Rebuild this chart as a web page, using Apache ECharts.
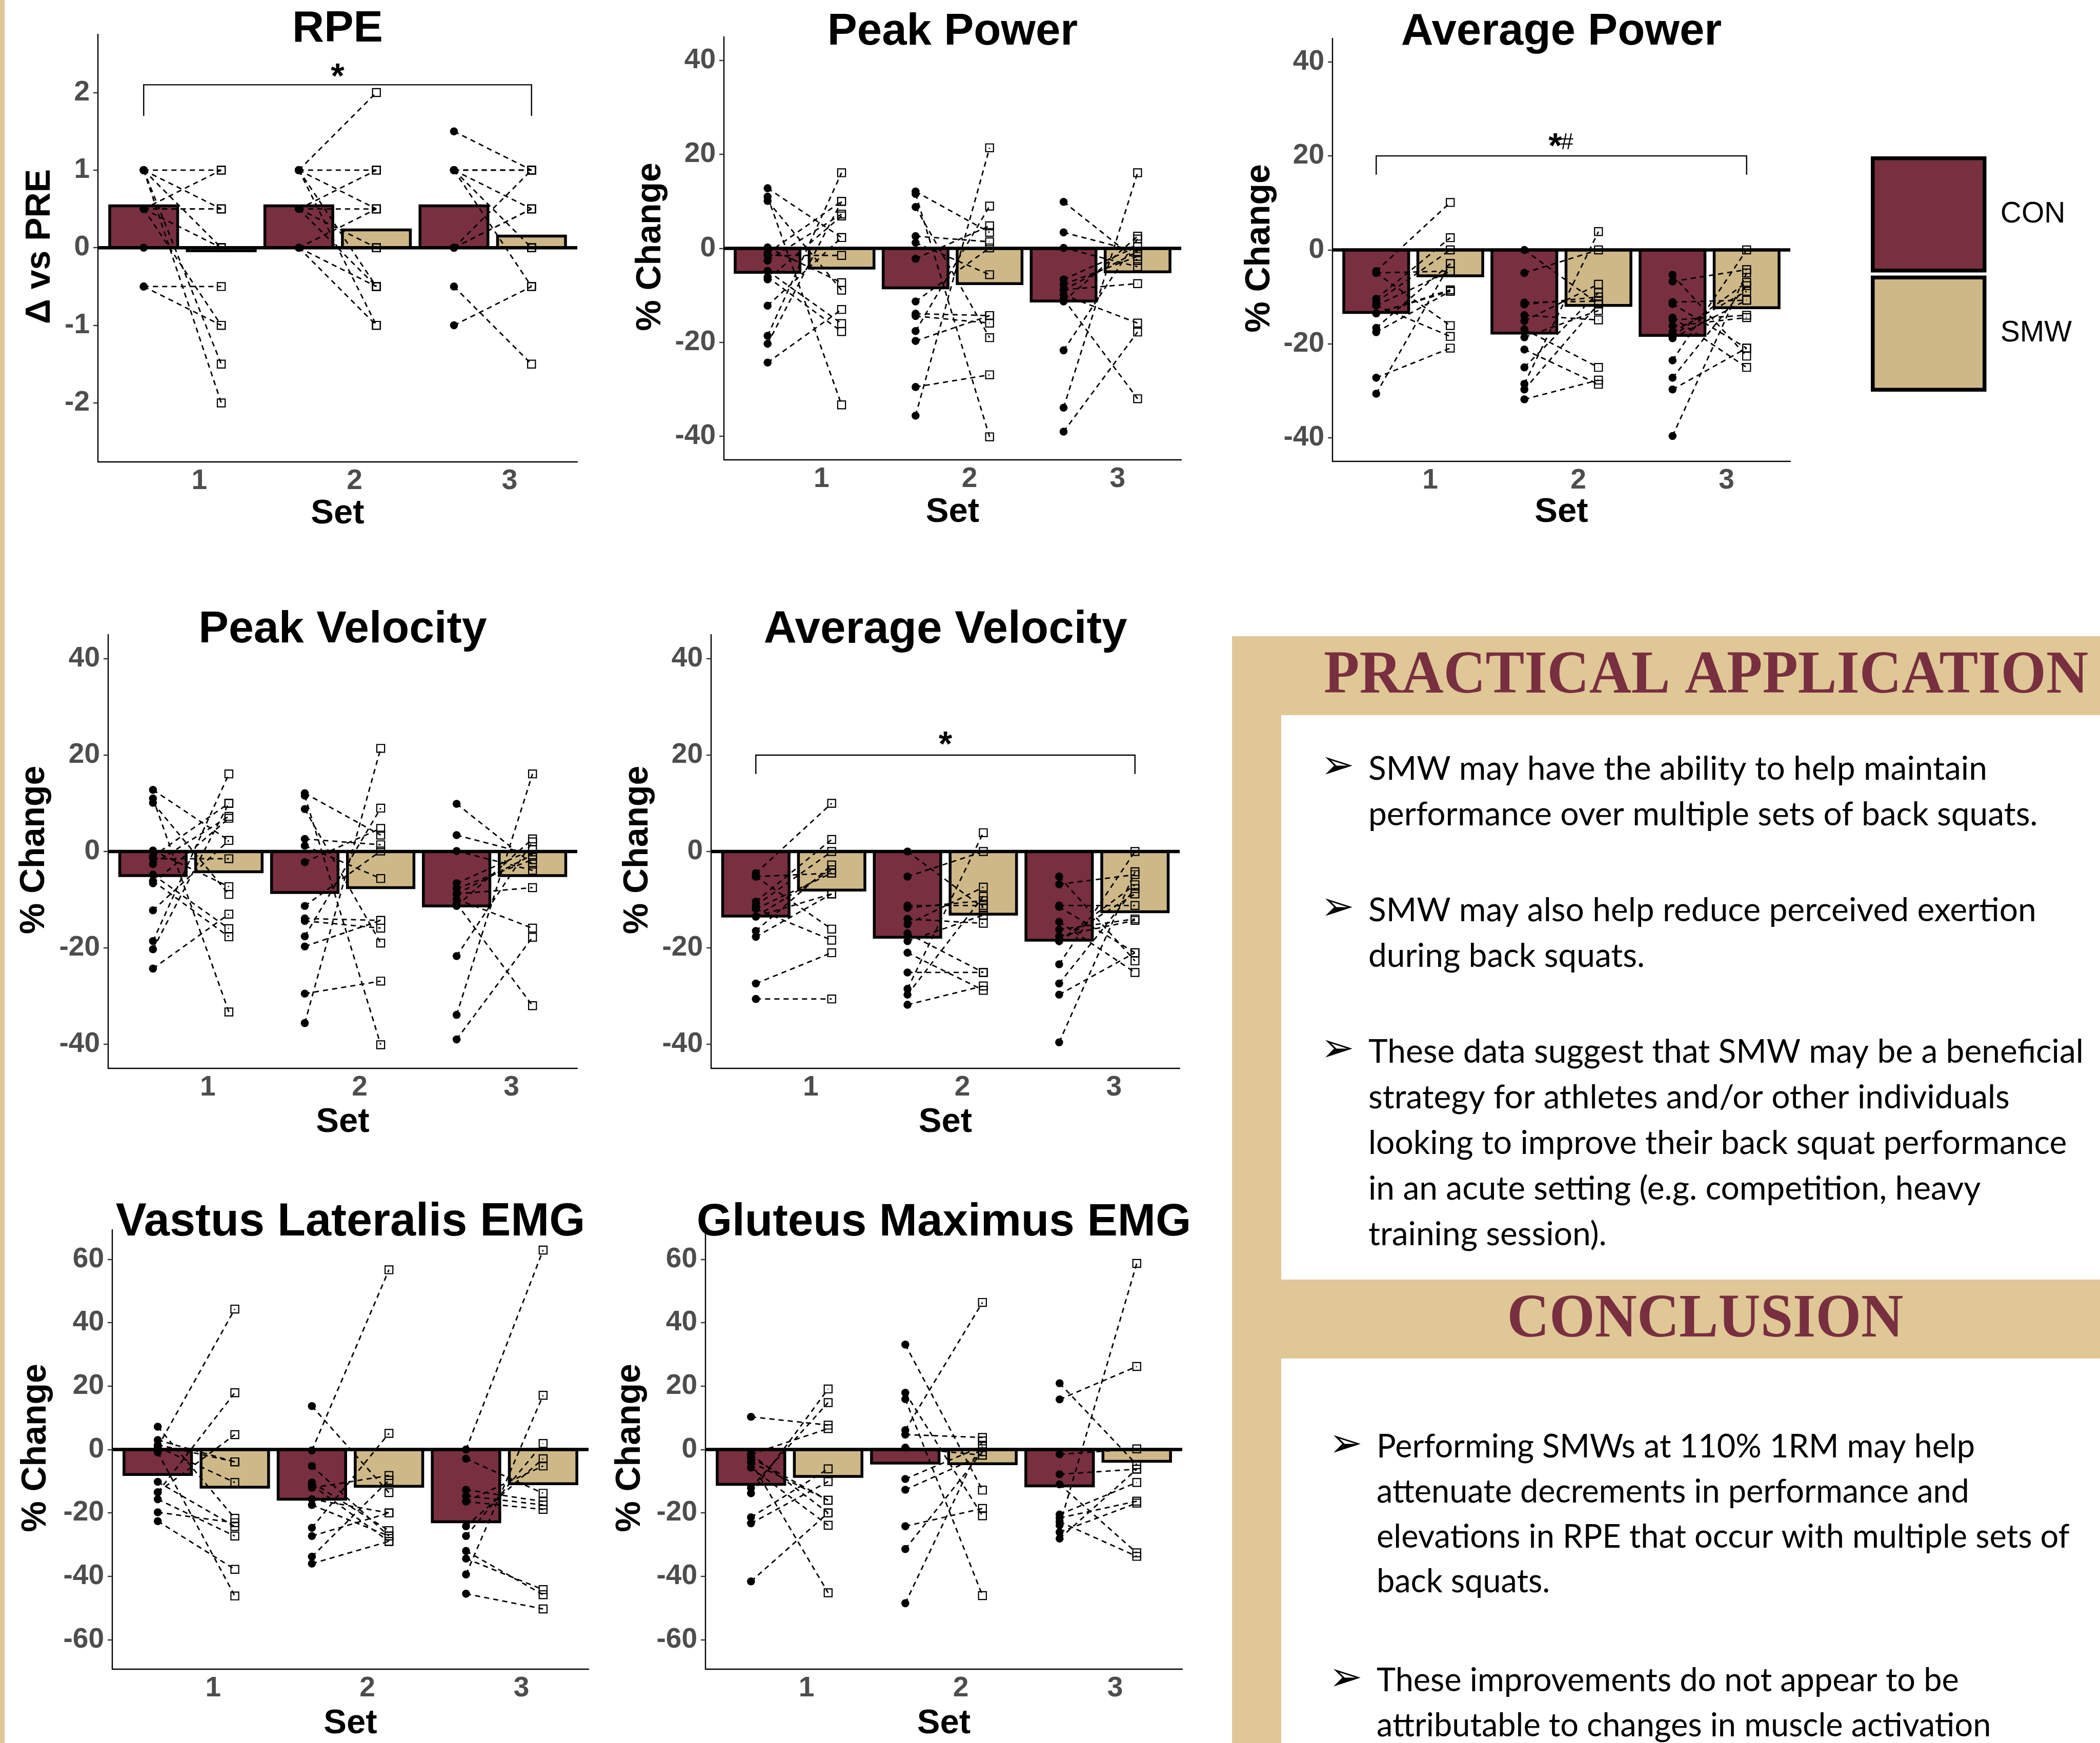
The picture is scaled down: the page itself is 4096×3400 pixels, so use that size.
<!DOCTYPE html>
<html>
<head>
<meta charset="utf-8">
<script src="https://cdn.jsdelivr.net/npm/echarts@6.0.0/dist/echarts.min.js"></script>
<style>
html, body { margin: 0; padding: 0; background: #fff; }
#main { width: 4096px; height: 3400px; }
</style>
</head>
<body>
<div id="main"></div>
<script>
var setLabels = ['1', '2', '3'];
var rpeTicks = [-2, -1, 0, 1, 2];
var pctTicks = [-40, -20, 0, 20, 40];
var emgTicks = [-60, -40, -20, 0, 20, 40, 60];

// RPE (delta vs PRE), one inner array per set, same subject order in CON and SMW
var rpeConMean = [0.54, 0.54, 0.54];
var rpeSmwMean = [-0.04, 0.23, 0.15];
var rpeCon = [
  [1, 1, 1, 1, 1, 0.5, 0.5, 0.5, 0.5, 0, -0.5, -0.5, 0.5],
  [1, 1, 1, 1, 1, 0.5, 0.5, 0.5, 0.5, 0, 0, 0, 0],
  [1.5, 1, 1, 1, 1, 0, 0, 0, -0.5, -1, 1, 0, 0]
];
var rpeSmw = [
  [1, 0, -1.5, -2, 0.5, 1, 0.5, 0, -1, 0, -0.5, -1, 0.5],
  [2, 1, 0.5, -0.5, -1, 1, 0, 0.5, -0.5, 0.5, -0.5, -1, 0],
  [1, 1, 0, -0.5, 1, 1, 0.5, 0, -1.5, -0.5, 0.5, 0, 0.5]
];

// Peak Power (% change)
var ppConMean = [-5.1, -8.4, -11.2];
var ppSmwMean = [-4.2, -7.5, -5.0];
var ppCon = [
  [12.8, 11.0, 10.1, 0.2, -1.0, -1.5, -2.6, -4.8, -6.1, -6.6, -12.2, -18.6, -20.3, -24.3],
  [12.1, 11.6, 8.8, 2.6, 1.2, -2.2, -11.3, -13.9, -14.4, -17.6, -19.7, -29.5, -35.6],
  [9.9, 3.4, 0.1, -6.6, -7.7, -8.8, -9.9, -10.8, -11.3, -21.7, -33.9, -39.0, -8.8]
];
var ppSmw = [
  [2.3, -33.3, -8.9, -7.3, 10.0, -1.5, 7.3, -16.0, -17.7, 6.9, 2.3, 16.1, 10.0, -13.0],
  [3.4, -40.1, -19.0, 1.4, -5.6, 4.8, 0.1, -14.3, -15.9, 9.0, -14.3, -26.9, 21.4],
  [-2.6, -0.7, -3.9, 0.4, -1.7, -7.5, -15.9, -32.0, 2.6, 2.0, 16.1, -17.8, -0.7]
];

// Peak Velocity: the poster shows the very same points and bars as Peak Power
var pvConMean = [-5.0, -8.5, -11.3];
var pvSmwMean = [-4.2, -7.5, -5.0];
var pvCon = ppCon;
var pvSmw = ppSmw;

// Average Power
var apConMean = [-13.3, -17.7, -18.2];
var apSmwMean = [-5.5, -11.8, -12.3];
var apCon = [
  [-4.5, -4.9, -4.9, -10.4, -11.1, -11.8, -13.5, -16.6, -17.5, -27.2, -30.6, -11.8, -13.5],
  [0, -4.9, -11.2, -11.6, -13.9, -15.1, -16.9, -18.6, -21.2, -25.0, -28.5, -29.7, -31.8],
  [-5.3, -6.7, -11.1, -11.5, -14.4, -14.9, -16.2, -17.5, -18.4, -18.8, -23.5, -27.2, -29.7, -39.6]
];
var apSmw = [
  [10.1, -4.5, -16.1, 2.6, 0.0, -18.4, -8.5, -2.9, -8.8, -20.9, -2.9, -4.5, -8.8],
  [-11.5, 0, -10.9, -10.0, -14.9, -7.3, -25.0, -12.9, -28.6, -9.1, 3.9, -11.5, -27.7],
  [-22.6, -4.2, -10.7, -20.9, -25.0, -13.9, -14.4, -8.8, -6.9, -10.7, 0, -7.6, -20.9, -4.9]
];

// Average Velocity
var avConMean = [-13.4, -17.8, -18.4];
var avSmwMean = [-8.0, -13.0, -12.5];
var avCon = [
  [-4.5, -5.2, -5.2, -10.4, -11.2, -11.9, -13.5, -16.5, -17.7, -27.4, -30.6, -11.9, -13.5],
  [0, -5.2, -11.2, -11.7, -14.0, -15.1, -17.0, -18.6, -21.0, -25.1, -28.5, -29.7, -31.8],
  [-5.2, -6.8, -11.2, -11.5, -14.6, -16.2, -17.6, -18.6, -18.6, -23.4, -27.4, -29.7, -39.6]
];
var avSmw = [
  [10.0, -4.5, -16.1, 2.5, 0.0, -18.4, -8.8, -2.8, -8.8, -21.0, -30.6, -4.5, -3.8],
  [-11.7, 0, -11.2, -10.2, -14.9, -7.4, -25.1, -13.2, -28.8, -25.1, 3.9, -9.3, -27.9],
  [-22.7, -4.8, -11.2, -21.0, -25.1, -14.0, -14.3, -8.8, -6.9, 0, -7.7, -21.0, -4.2]
];

// Vastus Lateralis EMG
var vlConMean = [-7.9, -15.7, -22.8];
var vlSmwMean = [-11.9, -11.6, -10.8];
var vlCon = [
  [7.2, 3.0, 0.8, -0.9, -10.2, -13.5, -15.7, -19.8, -22.6, 0.8, -13.5, 1.5],
  [13.7, -0.3, -5.2, -10.4, -11.2, -12.1, -17.5, -24.7, -27.3, -33.8, -36.0, -15.7],
  [0, -2.9, -12.7, -14.6, -16.4, -24.2, -27.3, -32.0, -34.4, -39.4, -45.5, -16.4]
];
var vlSmw = [
  [-21.7, -3.9, 44.3, -46.2, -24.3, 17.9, -27.3, -23.1, -37.8, -10.4, 4.7, -3.9],
  [-13.6, 56.7, -27.3, -25.6, -29.0, -8.2, -27.3, 5.1, -20.0, -9.7, -29.0, -20.0],
  [62.9, -13.8, -16.4, -17.5, -18.9, -2.9, 1.9, -45.8, -44.2, 17.1, -50.3, -5.2]
];

// Gluteus Maximus EMG
var gmConMean = [-11.0, -4.3, -11.5];
var gmSmwMean = [-8.5, -4.5, -3.7];
var gmCon = [
  [10.3, -1.5, -2.6, -4.0, -5.7, -12.1, -13.8, -21.4, -23.3, -41.6, -1.5, -4.0],
  [33.1, 17.9, 15.9, 6.1, 4.7, 0.6, -9.3, -12.7, -24.2, -31.4, -48.5],
  [20.9, 15.8, -1.5, -7.8, -11.0, -20.5, -21.6, -22.8, -23.9, -26.1, -28.1]
];
var gmSmw = [
  [7.7, 6.6, -16.0, -45.2, -23.9, 14.8, 19.1, -6.1, -10.1, -20.0, -20.0, -16.0],
  [-12.8, -20.9, -46.1, 46.4, 3.8, -1.8, 1.0, -1.8, -18.6, -0.7, 2.7],
  [-4.8, 26.2, 0.2, -6.2, -32.6, -10.4, -16.3, -33.7, 58.7, -16.9, -6.2]
];

var practicalLines = [
  ['SMW may have the ability to help maintain', 'performance over multiple sets of back squats.'],
  ['SMW may also help reduce perceived exertion', 'during back squats.'],
  ['These data suggest that SMW may be a beneficial', 'strategy for athletes and/or other individuals',
   'looking to improve their back squat performance', 'in an acute setting (e.g. competition, heavy',
   'training session).']
];
var conclusionLines = [
  ['Performing SMWs at 110% 1RM may help', 'attenuate decrements in performance and',
   'elevations in RPE that occur with multiple sets of', 'back squats.'],
  ['These improvements do not appear to be', 'attributable to changes in muscle activation']
];

// ---- styling ----
var GOLD = '#e0c796';
var CON_COLOR = '#782f40';
var SMW_COLOR = '#ceb888';
var DODGE = 0.25, BAR_HALF = 0.219;
var X_MIN = 0.455, X_MAX = 3.545;
var FONT = '"Liberation Sans", Arial, sans-serif';

var panels = [
  {title: 'RPE', titleSize: 86, yName: 'Δ vs PRE', con: rpeCon, smw: rpeSmw, conMean: rpeConMean, smwMean: rpeSmwMean,
   ticks: rpeTicks, yMin: -2.76, yMax: 2.75, box: [191, 67, 1126, 901], titleY: 57, setY: 1003, yNameX: 78,
   bracket: {from: 0.75, to: 3.25, low: 1.7, high: 2.1, marks: [{t: '*', dx: 0, dy: -13, bold: true}]}},
  {title: 'Peak Power', titleSize: 87, yName: '% Change', con: ppCon, smw: ppSmw, conMean: ppConMean, smwMean: ppSmwMean,
   ticks: pctTicks, yMin: -45, yMax: 45, box: [1412, 72, 2304, 897], titleY: 63, setY: 1000, yNameX: 1269},
  {title: 'Average Power', titleSize: 87, yName: '% Change', con: apCon, smw: apSmw, conMean: apConMean, smwMean: apSmwMean,
   ticks: pctTicks, yMin: -45, yMax: 45, box: [2599, 75, 3492, 900], titleY: 63, setY: 1000, yNameX: 2457,
   bracket: {from: 0.75, to: 3.25, low: 16, high: 20,
             marks: [{t: '*', dx: -12, dy: -16, bold: true}, {t: '#', dx: 11, dy: -25, bold: false}]}},
  {title: 'Peak Velocity', titleSize: 88, yName: '% Change', con: pvCon, smw: pvSmw, conMean: pvConMean, smwMean: pvSmwMean,
   ticks: pctTicks, yMin: -45, yMax: 45, box: [211, 1238, 1126, 2084], titleY: 1229, setY: 2190, yNameX: 67},
  {title: 'Average Velocity', titleSize: 89, yName: '% Change', con: avCon, smw: avSmw, conMean: avConMean, smwMean: avSmwMean,
   ticks: pctTicks, yMin: -45, yMax: 45, box: [1387, 1238, 2301, 2084], titleY: 1229, setY: 2190, yNameX: 1244,
   bracket: {from: 0.75, to: 3.25, low: 16.1, high: 20, marks: [{t: '*', dx: 0, dy: -18, bold: true}]}},
  {title: 'Vastus Lateralis EMG', titleSize: 90, yName: '% Change', con: vlCon, smw: vlSmw, conMean: vlConMean, smwMean: vlSmwMean,
   ticks: emgTicks, yMin: -69.3, yMax: 69.3, box: [219, 2399, 1148, 3256], titleY: 2385, setY: 3363, yNameX: 70},
  {title: 'Gluteus Maximus EMG', titleSize: 89, yName: '% Change', con: gmCon, smw: gmSmw, conMean: gmConMean, smwMean: gmSmwMean,
   ticks: emgTicks, yMin: -69.3, yMax: 69.3, box: [1376, 2399, 2306, 3256], titleY: 2385, setY: 3363, yNameX: 1229}
];

function barRenderer(offset) {
  return function (params, api) {
    var s = api.value(0), v = api.value(1);
    var a = api.coord([s + offset - BAR_HALF, v]);
    var b = api.coord([s + offset + BAR_HALF, 0]);
    return {
      type: 'rect',
      shape: {x: a[0], y: Math.min(a[1], b[1]), width: b[0] - a[0], height: Math.abs(b[1] - a[1])},
      style: {fill: api.visual('color'), stroke: '#000', lineWidth: 5.5}
    };
  };
}

function zeroRenderer(params, api) {
  var cs = params.coordSys;
  var y = api.coord([2, 0])[1];
  return {
    type: 'line',
    shape: {x1: cs.x, y1: y, x2: cs.x + cs.width, y2: y},
    style: {stroke: '#000', lineWidth: 6.5}
  };
}

function subjectRenderer(params, api) {
  var s = api.value(0);
  var p1 = api.coord([s - DODGE, api.value(1)]);
  var p2 = api.coord([s + DODGE, api.value(2)]);
  return {
    type: 'group',
    children: [
      {type: 'line', shape: {x1: p1[0], y1: p1[1], x2: p2[0], y2: p2[1]},
       style: {stroke: '#000', lineWidth: 2.8, lineDash: [10, 8]}},
      {type: 'circle', shape: {cx: p1[0], cy: p1[1], r: 7.8}, style: {fill: '#000'}},
      {type: 'rect', shape: {x: p2[0] - 7.6, y: p2[1] - 7.6, width: 15.2, height: 15.2},
       style: {fill: 'none', stroke: '#000', lineWidth: 2.2}}
    ]
  };
}

function bracketRenderer(br) {
  return function (params, api) {
    var a = api.coord([br.from, br.low]), b = api.coord([br.from, br.high]);
    var c = api.coord([br.to, br.high]), d = api.coord([br.to, br.low]);
    var mid = api.coord([(br.from + br.to) / 2, br.high]);
    var children = [{type: 'polyline', shape: {points: [a, b, c, d]},
                     style: {fill: 'none', stroke: '#000', lineWidth: 2.4}}];
    br.marks.forEach(function (m) {
      children.push({type: 'text', x: mid[0] + m.dx, y: mid[1] + m.dy,
        style: {text: m.t, fill: '#000', fontFamily: FONT,
                fontSize: m.bold ? 68 : 44, fontWeight: m.bold ? 'bold' : 'normal',
                align: 'center', verticalAlign: 'middle', textAlign: 'center', textVerticalAlign: 'middle'}});
    });
    return {type: 'group', children: children};
  };
}

function txt(x, y, text, o) {
  o = o || {};
  return {
    type: 'text', x: x, y: y, rotation: o.rotation || 0, scaleX: o.scaleX || 1, z: 10,
    style: {
      text: text, fill: o.fill || '#000', fontFamily: o.family || FONT,
      fontSize: o.size, fontWeight: o.weight || 'normal',
      align: o.align || 'center', textAlign: o.align || 'center',
      verticalAlign: 'middle', textVerticalAlign: 'middle'
    }
  };
}

var grids = [], xAxes = [], yAxes = [], series = [], graphics = [];

panels.forEach(function (p, i) {
  var b = p.box;
  grids.push({left: b[0], top: b[1], width: b[2] - b[0], height: b[3] - b[1]});
  xAxes.push({
    gridIndex: i, type: 'value', min: X_MIN, max: X_MAX,
    axisLine: {show: true, onZero: false, lineStyle: {color: '#000', width: 2.4}},
    axisTick: {show: false}, splitLine: {show: false},
    axisLabel: {customValues: [1, 2, 3], formatter: function (v) { return setLabels[Math.round(v) - 1]; },
                color: '#4d4d4d', fontWeight: 'bold', fontSize: 55, fontFamily: FONT,
                margin: 10, padding: [0, 0, 0, 66]}
  });
  yAxes.push({
    gridIndex: i, type: 'value', min: p.yMin, max: p.yMax,
    axisLine: {show: true, onZero: false, lineStyle: {color: '#000', width: 2.4}},
    axisTick: {show: true, customValues: p.ticks, length: 9, lineStyle: {color: '#333', width: 2.4}},
    splitLine: {show: false},
    axisLabel: {customValues: p.ticks, color: '#4d4d4d', fontWeight: 'bold', fontSize: 55,
                fontFamily: FONT, margin: 16}
  });

  var conBars = p.conMean.map(function (v, k) { return [k + 1, v]; });
  var smwBars = p.smwMean.map(function (v, k) { return [k + 1, v]; });
  series.push({type: 'custom', name: 'CON', xAxisIndex: i, yAxisIndex: i, z: 2,
               itemStyle: {color: CON_COLOR}, renderItem: barRenderer(-DODGE), encode: {x: 0, y: 1}, data: conBars});
  series.push({type: 'custom', name: 'SMW', xAxisIndex: i, yAxisIndex: i, z: 2,
               itemStyle: {color: SMW_COLOR}, renderItem: barRenderer(DODGE), encode: {x: 0, y: 1}, data: smwBars});
  series.push({type: 'custom', xAxisIndex: i, yAxisIndex: i, z: 3, silent: true,
               renderItem: zeroRenderer, encode: {x: 0, y: 1}, data: [[2, 0]]});

  var subj = [];
  p.con.forEach(function (arr, k) {
    arr.forEach(function (c, j) { subj.push([k + 1, c, p.smw[k][j]]); });
  });
  series.push({type: 'custom', xAxisIndex: i, yAxisIndex: i, z: 4, silent: true,
               renderItem: subjectRenderer, encode: {x: 0, y: [1, 2]}, data: subj});

  if (p.bracket) {
    series.push({type: 'custom', xAxisIndex: i, yAxisIndex: i, z: 4, silent: true,
                 renderItem: bracketRenderer(p.bracket), encode: {x: 0, y: 1},
                 data: [[p.bracket.from, p.bracket.high]]});
  }

  var cx = (b[0] + b[2]) / 2;
  graphics.push(txt(cx, p.titleY, p.title, {size: p.titleSize, weight: 'bold'}));
  graphics.push(txt(cx, p.setY, 'Set', {size: 67, weight: 'bold'}));
  graphics.push(txt(p.yNameX, (b[1] + b[3]) / 2 - 3, p.yName, {size: 68, weight: 'bold', rotation: Math.PI / 2}));
});

// page strip and the text boxes
graphics.unshift(
  {type: 'rect', z: 0, shape: {x: 0, y: 0, width: 9, height: 3400}, style: {fill: GOLD}},
  {type: 'rect', z: 0, shape: {x: 2403, y: 1241, width: 1693, height: 2159}, style: {fill: GOLD}},
  {type: 'rect', z: 1, shape: {x: 2499, y: 1395, width: 1597, height: 1101}, style: {fill: '#fff'}},
  {type: 'rect', z: 1, shape: {x: 2499, y: 2650, width: 1597, height: 750}, style: {fill: '#fff'}}
);
graphics.push(txt(2582, 1321, 'PRACTICAL APPLICATION',
  {size: 118, weight: 'bold', family: '"Liberation Serif", serif', fill: CON_COLOR, align: 'left', scaleX: 0.963}));
graphics.push(txt(3326, 2576, 'CONCLUSION',
  {size: 120, weight: 'bold', family: '"Liberation Serif", serif', fill: CON_COLOR, scaleX: 0.95}));

var practicalY = [1500, 1776, 2052];
practicalLines.forEach(function (lines, k) {
  graphics.push(txt(2609, practicalY[k] - 2, '➢', {size: 78, family: '"DejaVu Sans"'}));
  lines.forEach(function (line, j) {
    graphics.push(txt(2669, practicalY[k] + j * 89, line, {size: 64, family: 'Lato', align: 'left'}));
  });
});
var conclusionY = [2823, 3279];
conclusionLines.forEach(function (lines, k) {
  graphics.push(txt(2625, conclusionY[k] - 2, '➢', {size: 78, family: '"DejaVu Sans"'}));
  lines.forEach(function (line, j) {
    graphics.push(txt(2685, conclusionY[k] + j * 87.7, line, {size: 63, family: 'Lato', align: 'left'}));
  });
});

var chart = echarts.init(document.getElementById('main'));
chart.setOption({
  backgroundColor: '#fff',
  animation: false,
  grid: grids,
  xAxis: xAxes,
  yAxis: yAxes,
  legend: {
    data: ['CON', 'SMW'], orient: 'vertical', left: 3644, top: 300,
    itemWidth: 218, itemHeight: 219, itemGap: 6, icon: 'rect', selectedMode: false,
    itemStyle: {borderColor: '#000', borderWidth: 7.5},
    textStyle: {fontSize: 57, color: '#000', fontFamily: FONT, padding: [0, 0, 0, 26]}
  },
  graphic: graphics,
  series: series
});
</script>
</body>
</html>
